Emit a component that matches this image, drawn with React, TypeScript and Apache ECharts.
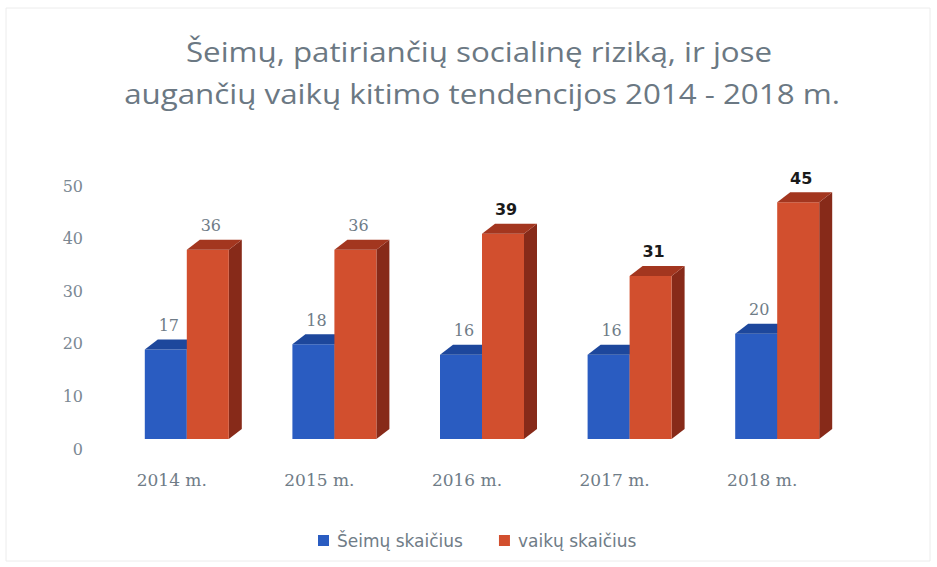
import React, { useEffect, useRef } from "react";
import * as echarts from "echarts";

const titleLines = [
  "Šeimų, patiriančių socialinę riziką, ir jose",
  "augančių vaikų kitimo tendencijos 2014 - 2018 m.",
];
const categories = ["2014 m.", "2015 m.", "2016 m.", "2017 m.", "2018 m."];
const seriesNames = ["Šeimų skaičius", "vaikų skaičius"];
const familiesValues = [17, 18, 16, 16, 20];
const childrenValues = [36, 36, 39, 31, 45];
const childrenLabelBold = [false, false, true, true, true];
const familiesLabelBold = [false, false, false, false, false];
const yTicks = { min: 0, max: 50, interval: 10 };

const SHIFT = 15; // perspective shift of the bar pair from the category centre
const BAR_W = 42;
const DX = 13;
const DY = 10;
const LIFT = 10;

function make3dBar(side: "left" | "right", colors: { front: string; top: string; side: string }, boldFlags: boolean[]) {
  return (params: any, api: any) => {
    const idx = api.value(0);
    const val = api.value(1);
    const base = api.coord([idx, 0]);
    const top = api.coord([idx, val]);
    const cx = base[0] + SHIFT;
    const x0 = side === "left" ? cx - BAR_W : cx;
    const x1 = x0 + BAR_W;
    const yb = base[1] - LIFT;
    const yt = top[1] - LIFT;
    const bold = boldFlags[params.dataIndex];
    return {
      type: "group",
      children: [
        {
          type: "polygon",
          shape: { points: [[x1, yt], [x1 + DX, yt - DY], [x1 + DX, yb - DY], [x1, yb]] },
          style: { fill: colors.side },
        },
        {
          type: "rect",
          shape: { x: x0, y: yt, width: BAR_W, height: yb - yt },
          style: { fill: colors.front },
        },
        {
          type: "polygon",
          shape: { points: [[x0, yt], [x0 + DX, yt - DY], [x1 + DX, yt - DY], [x1, yt]] },
          style: { fill: colors.top },
        },
        {
          type: "text",
          x: (x0 + x1) / 2 + 3,
          y: yt - DY - 14,
          style: {
            text: String(val),
            align: "center",
            verticalAlign: "middle",
            fontFamily: bold ? "DejaVu Sans" : "DejaVu Serif",
            fontSize: 16,
            fontWeight: bold ? "bold" : "normal",
            fill: bold ? "#1a1a1a" : "#6f7c87",
          },
        },
      ],
    };
  };
}

export default function App() {
  const ref = useRef<HTMLDivElement>(null);
  useEffect(() => {
    if (!ref.current) return;
    const chart = echarts.init(ref.current, null, { renderer: "svg" });
    const blue = { front: "#2a5cc1", top: "#1d479c", side: "#1a3f8a" };
    const red = { front: "#d24f2e", top: "#a3361f", side: "#872a19" };
    chart.setOption({
      animation: false,
      backgroundColor: "#ffffff",
      graphic: [
        {
          type: "rect",
          shape: { x: 6, y: 8, width: 924, height: 553 },
          style: { fill: "none", stroke: "#ececec", lineWidth: 1 },
          silent: true,
        },
        {
          type: "text",
          x: 479,
          y: 52,
          scaleX: 1.16,
          style: {
            text: titleLines[0],
            align: "center",
            verticalAlign: "middle",
            fontFamily: "Open Sans",
            fontSize: 27,
            fill: "#6b7883",
          },
        },
        {
          type: "text",
          x: 482,
          y: 94,
          scaleX: 1.16,
          style: {
            text: titleLines[1],
            align: "center",
            verticalAlign: "middle",
            fontFamily: "Open Sans",
            fontSize: 27,
            fill: "#6b7883",
          },
        },
      ],
      legend: {
        left: 313,
        top: 527,
        itemWidth: 11,
        itemHeight: 11,
        itemGap: 36,
        icon: "rect",
        data: seriesNames,
        textStyle: {
          fontFamily: "DejaVu Sans",
          fontSize: 17,
          color: "#6f7c87",
          padding: [0, 0, 0, 3],
        },
      },
      grid: { left: 98, right: 101, top: 186, bottom: 118 },
      xAxis: {
        type: "category",
        data: categories,
        axisLine: { show: false },
        axisTick: { show: false },
        axisLabel: {
          margin: 22,
          fontFamily: "DejaVu Serif",
          fontSize: 17,
          color: "#6f7c87",
        },
      },
      yAxis: {
        type: "value",
        min: yTicks.min,
        max: yTicks.max,
        interval: yTicks.interval,
        axisLine: { show: false },
        axisTick: { show: false },
        splitLine: { show: false },
        axisLabel: {
          margin: 15,
          fontFamily: "DejaVu Serif",
          fontSize: 16,
          color: "#7b8893",
        },
      },
      series: [
        {
          name: seriesNames[0],
          type: "custom",
          itemStyle: { color: blue.front },
          renderItem: make3dBar("left", blue, familiesLabelBold),
          data: familiesValues.map((v, i) => [i, v]),
          encode: { x: 0, y: 1 },
        },
        {
          name: seriesNames[1],
          type: "custom",
          itemStyle: { color: red.front },
          renderItem: make3dBar("right", red, childrenLabelBold),
          data: childrenValues.map((v, i) => [i, v]),
          encode: { x: 0, y: 1 },
        },
      ],
    });
    return () => chart.dispose();
  }, []);
  return (
    <div
      ref={ref}
      style={{ position: "fixed", left: 0, top: 0, width: 937, height: 567, background: "#fff" }}
    />
  );
}
